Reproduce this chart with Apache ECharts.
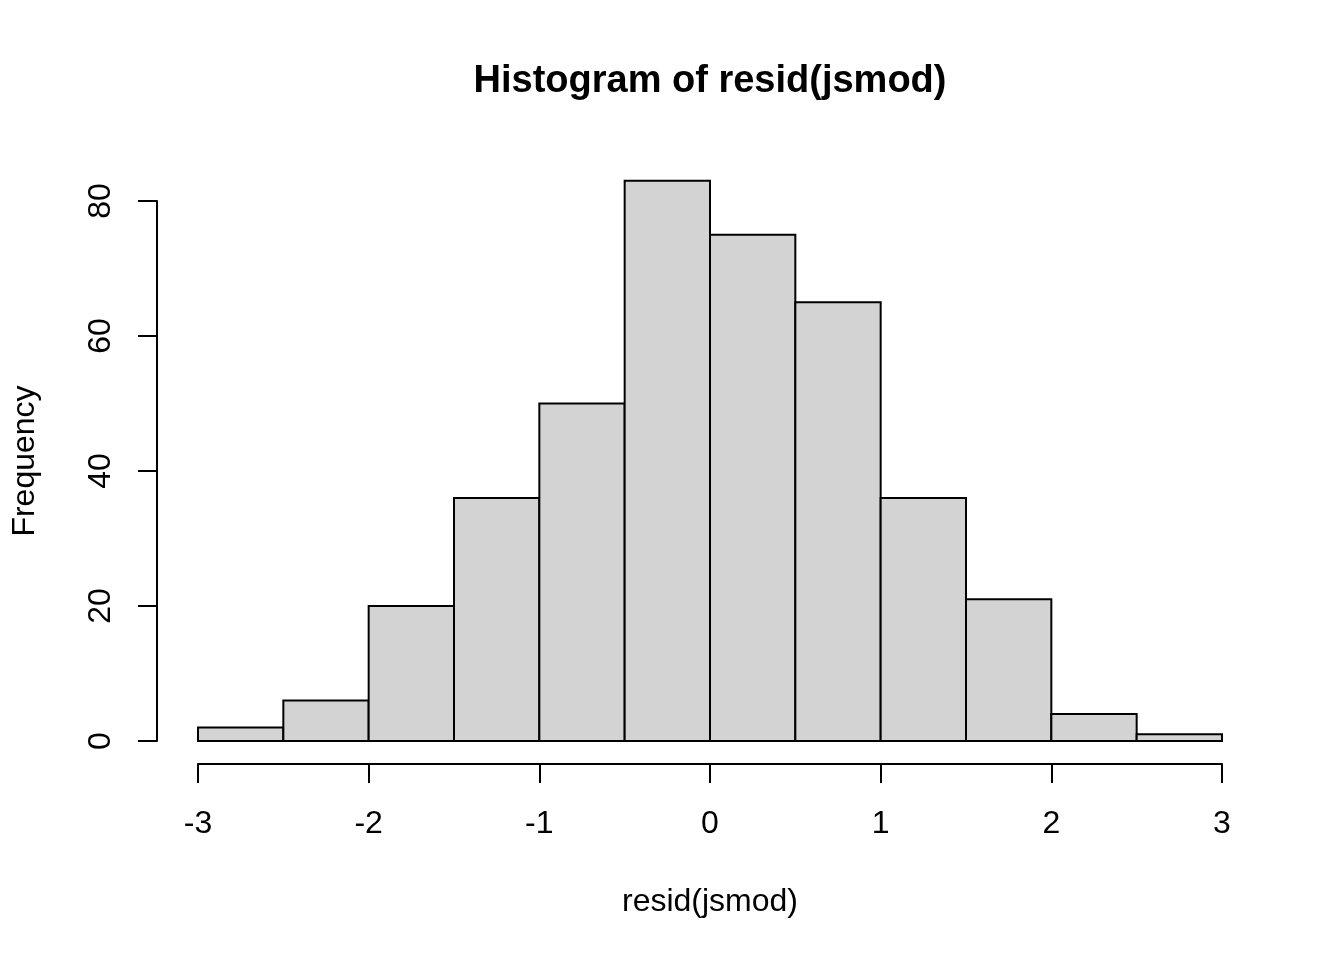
<!DOCTYPE html>
<html>
<head>
<meta charset="utf-8">
<script src="https://cdn.jsdelivr.net/npm/echarts@6/dist/echarts.min.js"></script>
<style>
html,body{margin:0;padding:0;background:#fff;}
#chart{width:1344px;height:960px;}
</style>
</head>
<body>
<div id="chart"></div>
<script>
var binEdges = [-3, -2.5, -2, -1.5, -1, -0.5, 0, 0.5, 1, 1.5, 2, 2.5, 3];
var counts = [2, 6, 20, 36, 50, 83, 75, 65, 36, 21, 4, 1];
var xTicks = [-3, -2, -1, 0, 1, 2, 3];
var yTicks = [0, 20, 40, 60, 80];
var titleText = 'Histogram of resid(jsmod)';
var xLabel = 'resid(jsmod)';
var yLabel = 'Frequency';

var FONT = '"Liberation Sans", Arial, sans-serif';
var data = counts.map(function (c, i) { return [binEdges[i], binEdges[i + 1], c]; });

var chart = echarts.init(document.getElementById('chart'), null, {renderer: 'canvas'});
chart.setOption({
  backgroundColor: '#ffffff',
  animation: false,
  textStyle: {fontFamily: FONT},
  grid: {left: 198, right: 122, top: 201, bottom: 219, containLabel: false},
  xAxis: {
    type: 'value',
    min: xTicks[0],
    max: xTicks[xTicks.length - 1],
    interval: 1,
    offset: 23,
    axisLine: {show: true, onZero: false, lineStyle: {color: '#000', width: 2}},
    axisTick: {show: true, length: 19, lineStyle: {color: '#000', width: 2}},
    axisLabel: {show: true, color: '#000', fontSize: 32, fontFamily: FONT, margin: 44},
    splitLine: {show: false}
  },
  yAxis: {
    type: 'value',
    min: yTicks[0],
    max: yTicks[yTicks.length - 1],
    interval: 20,
    offset: 41,
    axisLine: {show: true, onZero: false, lineStyle: {color: '#000', width: 2}},
    axisTick: {show: true, length: 19, lineStyle: {color: '#000', width: 2}},
    axisLabel: {show: true, color: '#000', fontSize: 32, fontFamily: FONT, rotate: 90, margin: 40},
    splitLine: {show: false}
  },
  graphic: [
    {type: 'text', x: 710, y: 82, style: {text: titleText, font: 'bold 38px ' + FONT, fill: '#000', textAlign: 'center', textVerticalAlign: 'middle'}},
    {type: 'text', x: 710, y: 902, style: {text: xLabel, font: '32px ' + FONT, fill: '#000', textAlign: 'center', textVerticalAlign: 'middle'}},
    {type: 'text', x: 25, y: 461, rotation: Math.PI / 2, style: {text: yLabel, font: '32px ' + FONT, fill: '#000', textAlign: 'center', textVerticalAlign: 'middle'}}
  ],
  series: [{
    type: 'custom',
    clip: false,
    data: data,
    encode: {x: [0, 1], y: 2},
    renderItem: function (params, api) {
      var p0 = api.coord([api.value(0), api.value(2)]);
      var p1 = api.coord([api.value(1), 0]);
      return {
        type: 'rect',
        shape: {x: p0[0], y: p0[1], width: p1[0] - p0[0], height: p1[1] - p0[1]},
        style: {fill: '#D3D3D3', stroke: '#000', lineWidth: 2}
      };
    }
  }]
});
</script>
</body>
</html>
